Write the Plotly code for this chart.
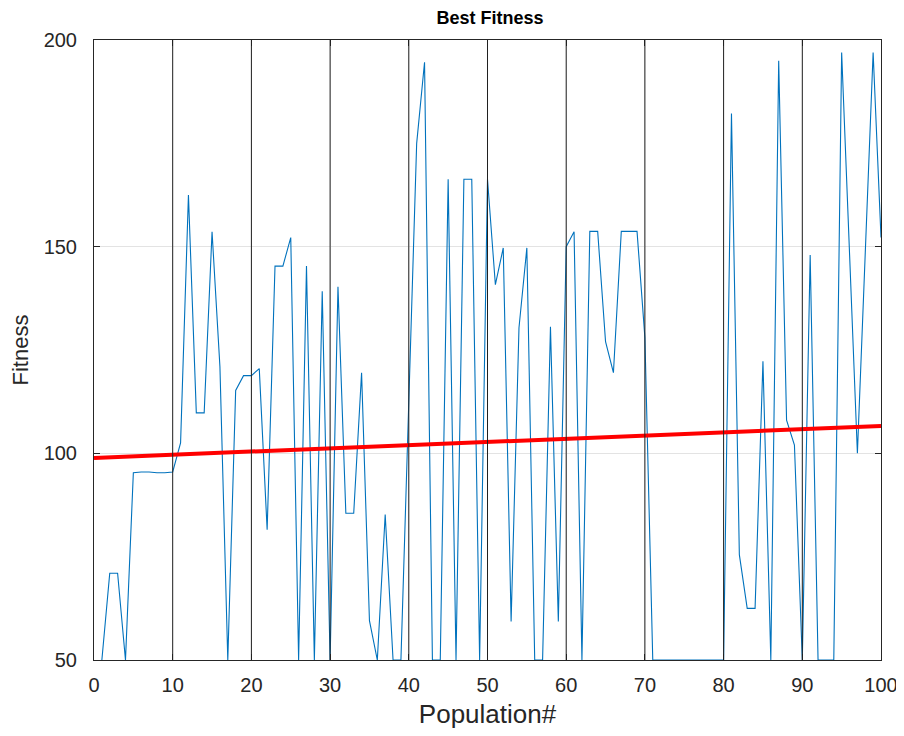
import plotly.graph_objects as go

population = list(range(1, 101))
best_fitness = [
    50, 71, 71, 50, 95.3, 95.5, 95.5, 95.3, 95.3, 95.5,
    102.5, 162.5, 109.8, 109.8, 153.6, 121, 50, 115.2, 118.8, 118.8,
    120.5, 81.5, 145.3, 145.3, 152.2, 50, 145.3, 50, 139.2, 50,
    140.3, 85.5, 85.5, 119.5, 59.5, 50, 85.2, 50, 50, 113,
    175, 194.6, 50, 50, 166.3, 50, 166.3, 166.3, 50, 166.3,
    140.8, 149.7, 59.3, 130.4, 149.7, 50, 50, 130.6, 59.3, 150,
    153.6, 50, 153.7, 153.7, 127, 119.5, 153.7, 153.7, 153.7, 128,
    50, 50, 50, 50, 50, 50, 50, 50, 50, 50,
    182.2, 75.5, 62.5, 62.5, 122.3, 50, 195, 108, 102, 50,
    148, 50, 50, 50, 197, 148.5, 100, 148.5, 197, 152.2,
]
trend_x = [0, 100]
trend_y = [98.9, 106.6]
marker_x = [10, 20, 30, 40, 50, 60, 70, 80, 90]
x_ticks = [0, 10, 20, 30, 40, 50, 60, 70, 80, 90, 100]
y_ticks = [50, 100, 150, 200]

FONT = "Liberation Sans, Arial, sans-serif"

fig = go.Figure()
fig.add_trace(go.Scatter(x=population, y=best_fitness, mode="lines",
                         line=dict(color="#0072BD", width=1.1), showlegend=False))
fig.add_trace(go.Scatter(x=trend_x, y=trend_y, mode="lines",
                         line=dict(color="#FF0000", width=4), showlegend=False))

for xv in marker_x:
    fig.add_shape(type="line", x0=xv, x1=xv, y0=0, y1=1, xref="x", yref="y domain",
                  line=dict(color="#202020", width=1), layer="above")

tick_font = dict(family=FONT, size=20, color="#262626")
fig.update_layout(
    width=896, height=728,
    margin=dict(l=86, r=23, t=32, b=76, autoexpand=False),
    paper_bgcolor="white", plot_bgcolor="white",
    title=dict(text="<b>Best Fitness</b>", x=0.538, xanchor="center", y=0.986, yanchor="middle",
               font=dict(family=FONT, size=18, color="#000000")),
    xaxis=dict(range=[0, 100], tickvals=x_ticks, ticks="inside", ticklen=6, tickcolor="#262626",
               showline=True, linecolor="#262626", linewidth=1, mirror="ticks",
               showgrid=True, gridcolor="#e3e3e3", zeroline=False, tickfont=tick_font,
               ticklabelstandoff=7, automargin=False,
               title=dict(text="Population#", font=dict(family=FONT, size=26, color="#262626"), standoff=9)),
    yaxis=dict(range=[50, 200], tickvals=y_ticks, ticks="inside", ticklen=6, tickcolor="#262626",
               showline=True, linecolor="#262626", linewidth=1, mirror="ticks",
               showgrid=True, gridcolor="#e3e3e3", zeroline=False, tickfont=tick_font,
               ticklabelstandoff=12, automargin=False,
               title=dict(text="Fitness", font=dict(family=FONT, size=22, color="#262626"), standoff=12)),
)

fig.write_html("out.html")
